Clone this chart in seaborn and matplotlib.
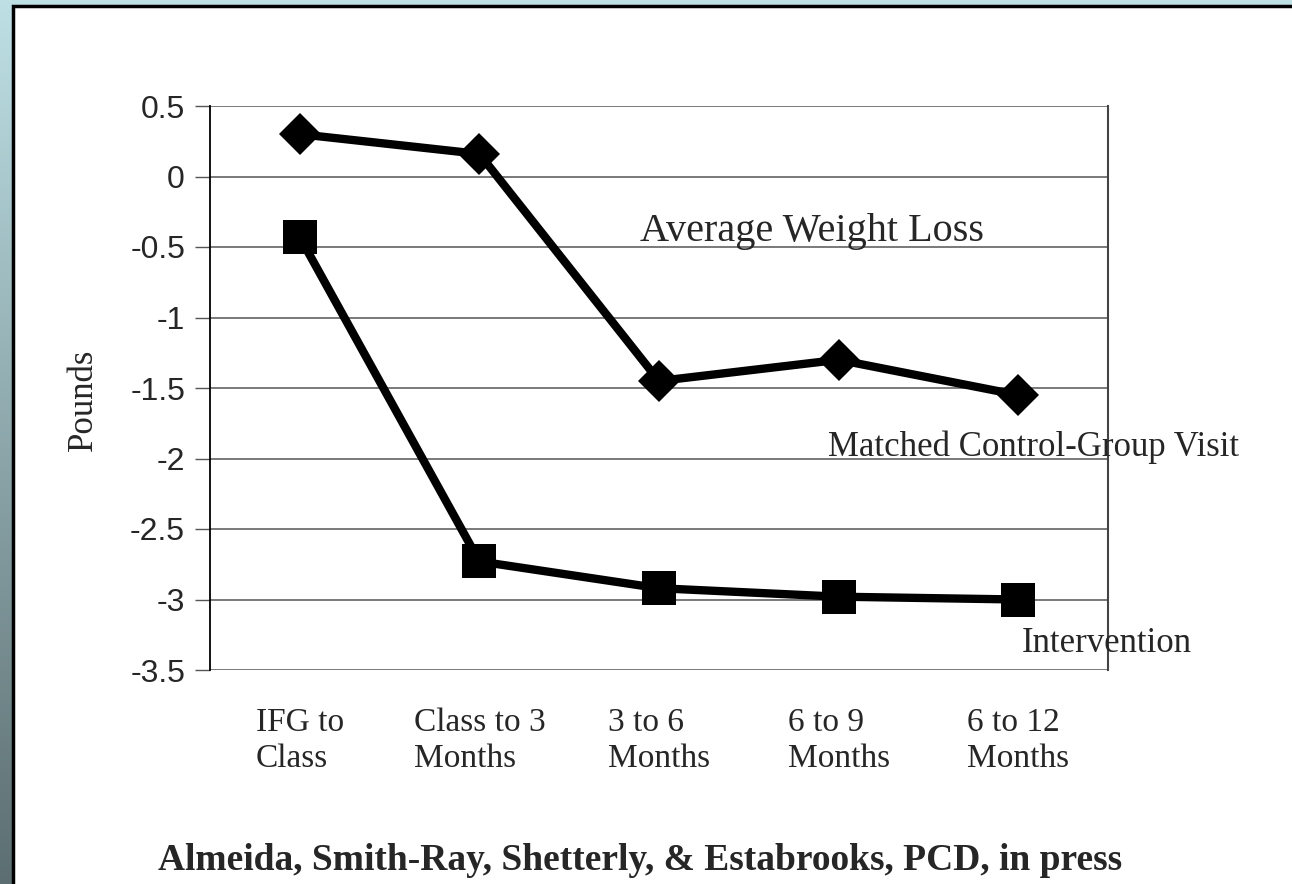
import numpy as np
import pandas as pd
import matplotlib
matplotlib.use("Agg")
import matplotlib.pyplot as plt
import seaborn as sns

categories = ["IFG to\nClass", "Class to 3\nMonths", "3 to 6\nMonths", "6 to 9\nMonths", "6 to 12\nMonths"]
control_values = [0.30, 0.16, -1.45, -1.30, -1.55]
intervention_values = [-0.43, -2.73, -2.92, -2.98, -3.00]
y_ticks = [0.5, 0, -0.5, -1, -1.5, -2, -2.5, -3, -3.5]
y_tick_labels = ["0.5", "0", "-0.5", "-1", "-1.5", "-2", "-2.5", "-3", "-3.5"]

sns.set_theme(style="white")
plt.rcParams['font.family'] = ['Liberation Serif', 'DejaVu Serif']

W, H = 1292, 884
fig = plt.figure(figsize=(W / 100, H / 100), dpi=100)
fig.patch.set_facecolor("white")

# background frame with gradient
bg = fig.add_axes([0, 0, 1, 1], zorder=-10)
top = np.array([190, 224, 229]) / 255
bot = np.array([92, 110, 113]) / 255
t = np.linspace(0, 1, 256)[:, None]
grad = (top[None, :] * (1 - t) + bot[None, :] * t)[:, None, :]
grad = np.repeat(grad, 2, axis=1)
bg.imshow(grad, extent=[0, W, H, 0], aspect="auto")
bg.add_patch(plt.Rectangle((12.5, 6), W, H, facecolor="white", edgecolor="black", linewidth=2.5))
bg.set_xlim(0, W)
bg.set_ylim(H, 0)
bg.axis("off")

ax = fig.add_axes([210 / W, 1 - 670 / H, (1108 - 210) / W, (670 - 106) / H])
ax.set_facecolor("white")

df = pd.DataFrame({
    "cat": list(range(len(categories))) * 2,
    "value": control_values + intervention_values,
    "series": ["Matched Control-Group Visit"] * len(categories) + ["Intervention"] * len(categories),
})

sns.lineplot(data=df[df.series == "Matched Control-Group Visit"], x="cat", y="value", marker="D",
             color="black", linewidth=6, markersize=21, markeredgewidth=0, legend=False, ax=ax, zorder=5)
sns.lineplot(data=df[df.series == "Intervention"], x="cat", y="value", marker="s",
             color="black", linewidth=6, markersize=24, markeredgewidth=0, legend=False, ax=ax, zorder=5)

ax.set_xlim(-0.5, 4.5)
ax.set_ylim(-3.5, 0.5)
ax.set_yticks(y_ticks)
ax.set_yticklabels(y_tick_labels, fontfamily="Liberation Sans", fontsize=23)
ax.set_xticks(range(len(categories)))
ax.set_xticklabels(categories, fontsize=24, multialignment="left", linespacing=1.25)
ax.tick_params(axis="y", which="both", left=True, length=11, width=1, color="#555555", pad=7)
ax.tick_params(axis="x", length=0, pad=27)
ax.yaxis.grid(True, color="#6e6e6e", linewidth=1.3)
ax.set_axisbelow(True)
for side in ["top", "bottom"]:
    ax.spines[side].set_visible(False)
ax.spines["left"].set_color("black")
ax.spines["left"].set_linewidth(1.3)
ax.spines["right"].set_color("#444444")
ax.spines["right"].set_linewidth(1.5)
ax.set_xlabel("")
ax.set_ylabel("")

fig.text(83 / W, 1 - 400 / H, "Pounds", rotation=90, ha="center", va="center", fontsize=25)
fig.text(812 / W, 1 - 232 / H, "Average Weight Loss", ha="center", va="center", fontsize=29)
fig.text(828 / W, 1 - 447 / H, "Matched Control-Group Visit", ha="left", va="center", fontsize=25)
fig.text(1022 / W, 1 - 643 / H, "Intervention", ha="left", va="center", fontsize=25)
fig.text(640 / W, 1 - 860 / H, "Almeida, Smith-Ray, Shetterly, & Estabrooks, PCD, in press",
         ha="center", va="center", fontsize=27, fontweight="bold")

fig.savefig("out.png", dpi=100)
